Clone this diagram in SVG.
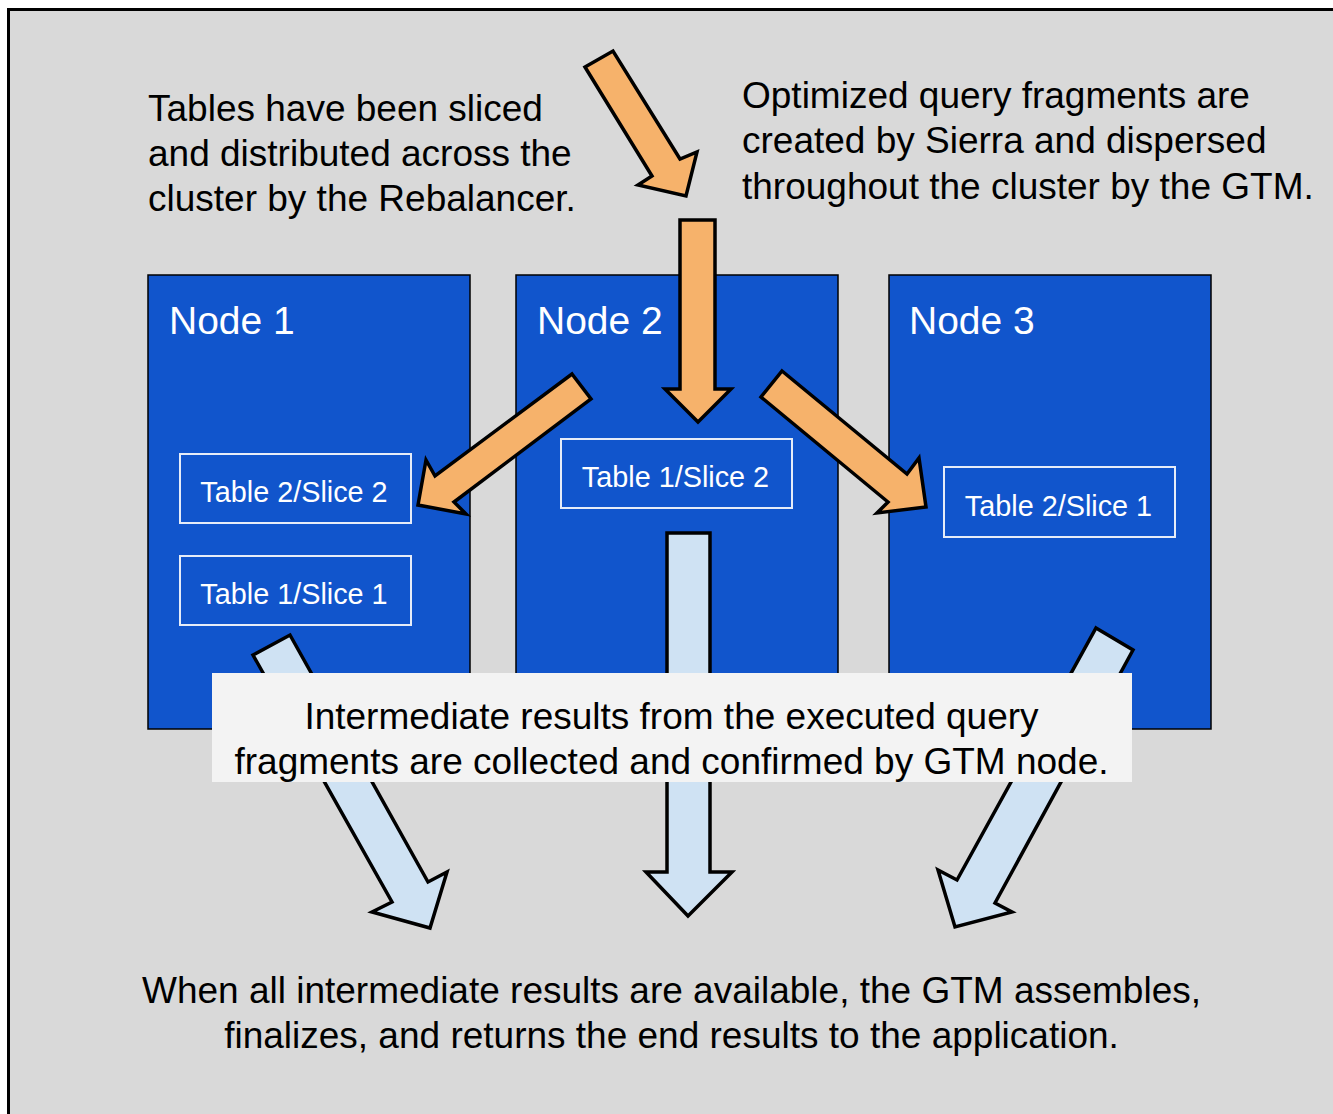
<svg xmlns="http://www.w3.org/2000/svg" width="1333" height="1114" viewBox="0 0 1333 1114">
<style>
.txt{font-family:"Liberation Sans",Arial,sans-serif;font-size:37px;fill:#000}
.ttl{font-family:"Liberation Sans",Arial,sans-serif;font-size:39px;fill:#fff}
.tb{font-family:"Liberation Sans",Arial,sans-serif;font-size:28.8px;fill:#fff;text-anchor:middle}
.node{fill:#1155cc;stroke:#000;stroke-width:1.5}
.slice{fill:none;stroke:#e6ecf8;stroke-width:2}
.oa{fill:#f6b26b;stroke:#000;stroke-width:3.5;stroke-linejoin:miter}
.ba{fill:#cfe2f3;stroke:#000;stroke-width:3.5;stroke-linejoin:miter}
</style>
<rect x="0" y="0" width="1333" height="1114" fill="#fff"/>
<rect x="8.5" y="9.5" width="1340" height="1120" fill="#d9d9d9" stroke="#000" stroke-width="3"/>
<g id="node1">
<rect class="node" x="148" y="275" width="322" height="454"/>
<text class="ttl" x="169" y="334">Node 1</text>
</g>
<g id="node2">
<rect class="node" x="516" y="275" width="322" height="454"/>
<text class="ttl" x="537" y="334">Node 2</text>
</g>
<g id="node3">
<rect class="node" x="889" y="275" width="322" height="454"/>
<text class="ttl" x="909" y="334">Node 3</text>
</g>
<g id="t2s2">
<rect class="slice" x="180" y="454" width="231" height="69"/>
<text class="tb" x="294" y="502">Table 2/Slice 2</text>
</g>
<g id="t1s1">
<rect class="slice" x="180" y="556" width="231" height="69"/>
<text class="tb" x="294" y="604">Table 1/Slice 1</text>
</g>
<g id="t1s2">
<rect class="slice" x="561" y="439" width="231" height="69"/>
<text class="tb" x="675.5" y="487">Table 1/Slice 2</text>
</g>
<g id="t2s1">
<rect class="slice" x="944" y="467" width="231" height="70"/>
<text class="tb" x="1058.5" y="516">Table 2/Slice 1</text>
</g>
<g id="connectors">
<polygon class="oa" points="585,67 613,51 680,159 697,152 686,196 638,185 652,176"/>
<polygon class="oa" points="680,220 715,220 715,389 731,389 698,422 665,389 680,389"/>
<polygon class="oa" points="572,374 591,399 454,502 466,514 418,505 426,460 435,476"/>
<polygon class="oa" points="782,371 907,474 919,458 926,507 877,513 888,502 761,397"/>
<polygon class="ba" points="253,655 290,635 428,882 447,872 430,928 372,912 392,902"/>
<polygon class="ba" points="667,533 710,533 710,872 732,872 688,916 646,872 667,872"/>
<polygon class="ba" points="1096,628 1133,650 995,903 1012,912 955,927 938,870 957,880"/>
</g>
<g id="label">
<rect x="212" y="673" width="920" height="109" fill="#f3f3f3"/>
<text class="txt" text-anchor="middle" x="671.5" y="729">Intermediate results from the executed query</text>
<text class="txt" text-anchor="middle" x="671.5" y="774">fragments are collected and confirmed by GTM node.</text>
</g>
<g id="note-left">
<text class="txt" x="148" y="121">Tables have been sliced</text>
<text class="txt" x="148" y="166">and distributed across the</text>
<text class="txt" x="148" y="211">cluster by the Rebalancer.</text>
</g>
<g id="note-right">
<text class="txt" x="742" y="108">Optimized query fragments are</text>
<text class="txt" x="742" y="153">created by Sierra and dispersed</text>
<text class="txt" x="742" y="199">throughout the cluster by the GTM.</text>
</g>
<g id="note-bottom">
<text class="txt" text-anchor="middle" x="671.5" y="1003">When all intermediate results are available, the GTM assembles,</text>
<text class="txt" text-anchor="middle" x="671.5" y="1048">finalizes, and returns the end results to the application.</text>
</g>
</svg>
